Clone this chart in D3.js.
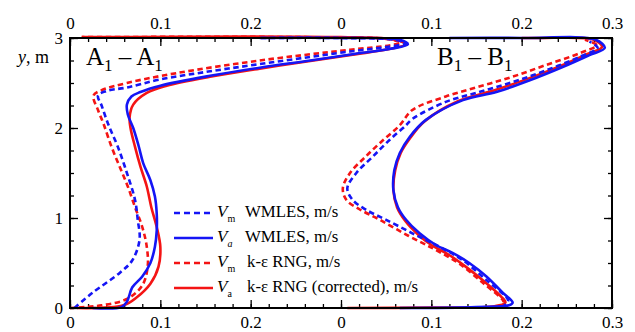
<!DOCTYPE html>
<html>
<head>
<meta charset="utf-8">
<script src="https://cdn.jsdelivr.net/npm/d3@7"></script>
<style>
  body { margin: 0; background: #fff; }
  svg, svg text { font-family: "Liberation Serif", "DejaVu Serif", "Times New Roman", serif !important; }
</style>
</head>
<body>
<div id="chart-container"></div>
<script>
// Section A1-A1 profiles, [velocity m/s, y m], bottom to top
const aVmWmles = [[0.005,0],[0.025,0.17],[0.055,0.39],[0.069,0.53],[0.077,0.76],[0.075,0.98],[0.072,1.2],[0.063,1.5],[0.053,1.79],[0.042,2.05],[0.035,2.25],[0.031,2.36],[0.04,2.41],[0.063,2.45],[0.1,2.54],[0.155,2.63],[0.21,2.71],[0.266,2.79],[0.31,2.85],[0.35,2.9],[0.372,2.94],[0.36,2.98],[0.3,3.0],[0.21,3.0]];
const aVaWmles = [[0.025,0],[0.057,0.01],[0.063,0.07],[0.069,0.23],[0.08,0.35],[0.089,0.5],[0.094,0.68],[0.096,0.86],[0.096,1.05],[0.094,1.24],[0.089,1.42],[0.081,1.61],[0.076,1.8],[0.07,2.0],[0.064,2.15],[0.063,2.26],[0.068,2.35],[0.078,2.4],[0.1,2.47],[0.155,2.58],[0.21,2.67],[0.266,2.75],[0.313,2.82],[0.355,2.88],[0.374,2.93],[0.365,2.98],[0.3,3.0],[0.21,3.0]];
const aVmRng = [[0.0,0],[0.035,0.03],[0.063,0.1],[0.08,0.25],[0.086,0.46],[0.085,0.68],[0.08,0.9],[0.072,1.12],[0.064,1.35],[0.055,1.57],[0.046,1.79],[0.037,2.05],[0.031,2.2],[0.026,2.36],[0.035,2.42],[0.063,2.5],[0.118,2.61],[0.21,2.75],[0.31,2.87],[0.355,2.92],[0.366,2.95],[0.35,2.99],[0.25,3.01],[0.013,3.01]];
const aVaRng = [[0.008,0],[0.059,0.03],[0.074,0.12],[0.089,0.27],[0.098,0.46],[0.1,0.68],[0.096,0.9],[0.09,1.12],[0.085,1.35],[0.078,1.57],[0.072,1.79],[0.067,2.0],[0.066,2.12],[0.07,2.26],[0.085,2.39],[0.107,2.47],[0.155,2.57],[0.21,2.66],[0.266,2.745],[0.313,2.815],[0.355,2.88],[0.372,2.93],[0.36,2.98],[0.3,3.01],[0.013,3.01]];

// Section B1-B1 profiles
const bVmWmles = [[0.178,0],[0.185,0.08],[0.183,0.12],[0.161,0.31],[0.135,0.53],[0.109,0.68],[0.079,0.83],[0.05,0.98],[0.028,1.09],[0.013,1.2],[0.007,1.33],[0.017,1.5],[0.035,1.68],[0.054,1.87],[0.072,2.03],[0.079,2.1],[0.116,2.29],[0.153,2.4],[0.19,2.51],[0.227,2.64],[0.264,2.79],[0.284,2.89],[0.275,2.96]];
const bVaWmles = [[0.065,0],[0.15,0.01],[0.186,0.03],[0.19,0.06],[0.179,0.17],[0.161,0.35],[0.142,0.5],[0.124,0.61],[0.105,0.7],[0.087,0.83],[0.072,0.98],[0.063,1.12],[0.058,1.31],[0.059,1.53],[0.065,1.72],[0.076,1.9],[0.094,2.09],[0.135,2.31],[0.172,2.4],[0.209,2.53],[0.246,2.68],[0.275,2.81],[0.292,2.89],[0.282,2.98],[0.2,3.0],[0.12,3.0]];
const bVmRng = [[0.172,0],[0.18,0.06],[0.179,0.09],[0.157,0.28],[0.13,0.5],[0.104,0.65],[0.075,0.8],[0.043,0.98],[0.02,1.1],[0.006,1.2],[0.002,1.33],[0.01,1.5],[0.027,1.68],[0.045,1.85],[0.065,2.03],[0.079,2.2],[0.116,2.35],[0.153,2.46],[0.19,2.57],[0.227,2.7],[0.264,2.83],[0.283,2.92],[0.27,2.98]];
const bVaRng = [[0.007,0],[0.1,0.005],[0.17,0.02],[0.182,0.06],[0.177,0.13],[0.158,0.3],[0.138,0.46],[0.118,0.6],[0.1,0.7],[0.085,0.82],[0.071,0.97],[0.062,1.12],[0.058,1.31],[0.06,1.53],[0.066,1.72],[0.076,1.88],[0.092,2.07],[0.13,2.3],[0.17,2.42],[0.205,2.54],[0.243,2.69],[0.272,2.82],[0.289,2.9],[0.28,2.98],[0.22,3.0],[0.2,3.0]];

// Axis ticks and labels
const xMajorTicks = [0, 0.1, 0.2, 0.3, 0.4, 0.5, 0.6];
const xTickLabels = ["0", "0.1", "0.2", "0", "0.1", "0.2", "0.3"];
const yMajorTicks = [0, 1, 2, 3];
const yTickLabels = ["0", "1", "2", "3"];

// Legend entries
const legendItems = [
  { sub: "m", subItalic: false, text: "WMLES, m/s", color: "blue", dashed: true },
  { sub: "a", subItalic: true, text: "WMLES, m/s", color: "blue", dashed: false },
  { sub: "m", subItalic: false, text: "k-ε RNG, m/s", color: "red", dashed: true },
  { sub: "a", subItalic: false, text: "k-ε RNG (corrected), m/s", color: "red", dashed: false }
];

const colors = { blue: "#1515f5", red: "#f41414" };
const serif = "'Liberation Serif', 'DejaVu Serif', serif";

const width = 635;
const height = 332;
const marginTop = 38;
const marginRight = 23;
const marginBottom = 24;
const marginLeft = 70;

// one shared x axis, section B is shifted by 0.3
const x = d3.scaleLinear()
  .domain([0, 0.6])
  .range([marginLeft, width - marginRight]);

const y = d3.scaleLinear()
  .domain([0, 3])
  .range([height - marginBottom, marginTop]);

const svg = d3.create("svg")
  .attr("width", width)
  .attr("height", height)
  .attr("viewBox", [0, 0, width, height])
  .attr("font-family", serif);

const fmtX = d => xTickLabels[Math.round(d * 10)];
const fmtY = d => yTickLabels[d];

// major ticks (inward) with labels
svg.append("g")
  .attr("transform", `translate(0,${height - marginBottom})`)
  .call(d3.axisBottom(x).tickValues(xMajorTicks).tickSize(-8).tickPadding(8).tickFormat(fmtX));
svg.append("g")
  .attr("transform", `translate(0,${marginTop})`)
  .call(d3.axisTop(x).tickValues(xMajorTicks).tickSize(-8).tickPadding(9).tickFormat(fmtX));
svg.append("g")
  .attr("transform", `translate(${marginLeft},0)`)
  .call(d3.axisLeft(y).tickValues(yMajorTicks).tickSize(-8).tickPadding(7).tickFormat(fmtY));
svg.append("g")
  .attr("transform", `translate(${width - marginRight},0)`)
  .call(d3.axisRight(y).tickValues(yMajorTicks).tickSize(-8).tickFormat(""));

// minor ticks
const xMinor = d3.range(0, 0.601, 0.02);
const yMinor = d3.range(0, 3.001, 0.25);
svg.append("g")
  .attr("transform", `translate(0,${height - marginBottom})`)
  .call(d3.axisBottom(x).tickValues(xMinor).tickSize(-4).tickFormat(""));
svg.append("g")
  .attr("transform", `translate(0,${marginTop})`)
  .call(d3.axisTop(x).tickValues(xMinor).tickSize(-4).tickFormat(""));
svg.append("g")
  .attr("transform", `translate(${marginLeft},0)`)
  .call(d3.axisLeft(y).tickValues(yMinor).tickSize(-4).tickFormat(""));
svg.append("g")
  .attr("transform", `translate(${width - marginRight},0)`)
  .call(d3.axisRight(y).tickValues(yMinor).tickSize(-4).tickFormat(""));

svg.selectAll(".domain").remove();
svg.selectAll("g").attr("font-family", serif);
svg.selectAll(".tick line").attr("stroke", "#000").attr("stroke-width", 1.3);
svg.selectAll(".tick text").attr("font-size", 17).attr("fill", "#000");

// curves
const line = d3.line()
  .curve(d3.curveCatmullRom.alpha(0.5));

const series = [
  { data: aVaRng, off: 0, color: "red", dashed: false },
  { data: aVmRng, off: 0, color: "red", dashed: true },
  { data: aVaWmles, off: 0, color: "blue", dashed: false },
  { data: aVmWmles, off: 0, color: "blue", dashed: true },
  { data: bVaRng, off: 0.3, color: "red", dashed: false },
  { data: bVmRng, off: 0.3, color: "red", dashed: true },
  { data: bVaWmles, off: 0.3, color: "blue", dashed: false },
  { data: bVmWmles, off: 0.3, color: "blue", dashed: true }
];

svg.append("g")
  .selectAll("path")
  .data(series)
  .join("path")
  .attr("fill", "none")
  .attr("stroke", d => colors[d.color])
  .attr("stroke-width", 2.6)
  .attr("stroke-dasharray", d => d.dashed ? "5.5,3.5" : null)
  .attr("d", d => line(d.data.map(p => [x(p[0] + d.off), y(p[1])])));

// frame
svg.append("rect")
  .attr("x", marginLeft)
  .attr("y", marginTop)
  .attr("width", width - marginLeft - marginRight)
  .attr("height", height - marginTop - marginBottom)
  .attr("fill", "none")
  .attr("stroke", "#000")
  .attr("stroke-width", 2);

// y axis title
const yTitle = svg.append("text")
  .attr("x", 18)
  .attr("y", 63)
  .attr("font-size", 18);
yTitle.append("tspan").attr("font-style", "italic").text("y");
yTitle.append("tspan").text(", m");

// section titles
function sectionTitle(letter, px, py) {
  const t = svg.append("text").attr("x", px).attr("y", py).attr("font-size", 25);
  t.append("tspan").text(letter);
  t.append("tspan").attr("font-size", 17).attr("dy", 6).text("1");
  t.append("tspan").attr("dy", -6).text(" – " + letter);
  t.append("tspan").attr("font-size", 17).attr("dy", 6).text("1");
}
sectionTitle("A", 86, 65);
sectionTitle("B", 437, 65);

// legend
const legend = svg.append("g");
const rowY = i => 213 + i * 25;

legend.selectAll("line")
  .data(legendItems)
  .join("line")
  .attr("x1", 174)
  .attr("x2", 213)
  .attr("y1", (d, i) => rowY(i))
  .attr("y2", (d, i) => rowY(i))
  .attr("stroke", d => colors[d.color])
  .attr("stroke-width", 2.6)
  .attr("stroke-dasharray", d => d.dashed ? "6,4" : null);

legend.selectAll("text.sym")
  .data(legendItems)
  .join("text")
  .attr("class", "sym")
  .attr("x", 217)
  .attr("y", (d, i) => rowY(i) + 4)
  .attr("font-size", 17)
  .each(function(d) {
    const t = d3.select(this);
    t.append("tspan").attr("font-style", "italic").text("V");
    t.append("tspan").attr("font-size", 10).attr("dy", 5)
      .attr("font-style", d.subItalic ? "italic" : "normal").text(d.sub);
  });

legend.selectAll("text.lab")
  .data(legendItems)
  .join("text")
  .attr("class", "lab")
  .attr("x", (d, i) => i < 2 ? 245 : 247)
  .attr("y", (d, i) => rowY(i) + 4)
  .attr("font-size", 16.8)
  .text(d => d.text);

document.getElementById("chart-container").appendChild(svg.node());
</script>
</body>
</html>
